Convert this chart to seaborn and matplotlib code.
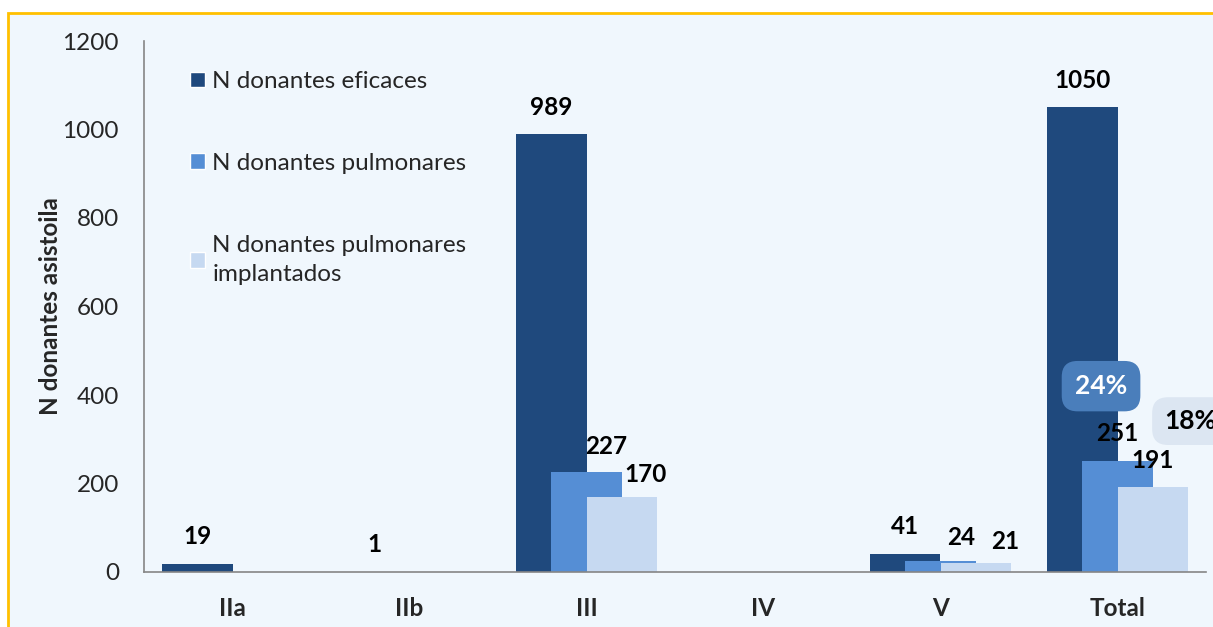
import numpy as np
import pandas as pd
import matplotlib
matplotlib.use("Agg")
import matplotlib.pyplot as plt
import seaborn as sns
from matplotlib.patches import Rectangle

# datos
categorias = ["IIa", "IIb", "III", "IV", "V", "Total"]
series = ["N donantes eficaces", "N donantes pulmonares",
          "N donantes pulmonares\nimplantados"]
eficaces = [19, 1, 989, 0, 41, 1050]
pulmonares = [0, 0, 227, 0, 24, 251]
implantados = [0, 0, 170, 0, 21, 191]
colores = ["#1F497D", "#558ED5", "#C6D9F1"]
yticks = [0, 200, 400, 600, 800, 1000, 1200]

# desplazamientos (px) de las etiquetas que Excel movió
nudge = {(1, 2): (20, 25), (2, 2): (24, 22), (1, 4): (21, 24), (2, 4): (29, 21)}

df = pd.DataFrame({
    "cat": categorias * 3,
    "serie": np.repeat(series, len(categorias)),
    "valor": eficaces + pulmonares + implantados,
})

sns.set_theme(style="white")
plt.rcParams["font.family"] = ["Lato", "DejaVu Sans"]
FS = 17.5

W, H = 1213, 627
fig = plt.figure(figsize=(W / 100, H / 100), dpi=100)
fig.patch.set_facecolor("white")
# marco del gráfico (naranja arriba e izquierda)
fig.patches.append(Rectangle((8 / W, -0.1), 1.2, (H - 13) / H + 0.1,
                             transform=fig.transFigure, facecolor="#F0F7FD",
                             edgecolor="#FFC000", linewidth=2, zorder=-1))

ax = fig.add_axes([144 / W, (H - 572) / H, 1062 / W, 531 / H])
ax.set_facecolor("none")

sns.barplot(data=df, x="cat", y="valor", hue="serie", hue_order=series,
            palette=colores, order=categorias, ax=ax, saturation=1,
            width=0.8, dodge=True, legend=True)

# barras solapadas: ancho 0.4, paso 0.2
n = len(categorias)
for k, cont in enumerate(ax.containers):
    for i, p in enumerate(cont.patches):
        p.set_width(0.4)
        p.set_x(i + (k - 1) * 0.2 - 0.2)
        p.set_linewidth(0)

vals = [eficaces, pulmonares, implantados]
for k in range(3):
    for i in range(n):
        v = vals[k][i]
        if v == 0:
            continue
        dx, dy = nudge.get((k, i), (0, 27))
        ax.annotate(str(v), (i + (k - 1) * 0.2, v), xytext=(dx * 0.72, dy * 0.72),
                    textcoords="offset points", ha="center", va="center",
                    fontsize=FS, fontweight="bold", color="black")

ax.set_xlim(-0.5, n - 0.5)
ax.set_ylim(0, 1200)
ax.set_yticks(yticks)
ax.set_yticklabels([str(t) for t in yticks], fontsize=FS)
ax.set_xticks(range(n))
ax.set_xticklabels(categorias, fontsize=FS, fontweight="bold")
ax.set_xticks(np.arange(-0.5, n, 1), minor=True)
ax.tick_params(axis="x", which="major", length=0, pad=18)
ax.tick_params(axis="x", which="minor", length=6, color="#868686", width=1.2, direction="out")
ax.tick_params(axis="y", length=5, color="#868686", width=1.2, direction="out", pad=13)
ax.set_xlabel("")
ax.set_ylabel("N donantes asistoila", fontsize=FS, fontweight="bold")
ax.yaxis.set_label_coords(-(144 - 62) / 1062, 0.5)
for s in ["top", "right"]:
    ax.spines[s].set_visible(False)
for s in ["left", "bottom"]:
    ax.spines[s].set_color("#868686")
    ax.spines[s].set_linewidth(1.2)

leg = ax.legend(loc="upper left", bbox_to_anchor=((190 - 144) / 1062, (572 - 71) / 531),
                frameon=False, fontsize=FS, handlelength=0.62, handleheight=0.62,
                handletextpad=0.3, labelspacing=2.5, borderpad=0, borderaxespad=0)
for t in leg.get_texts():
    t.set_linespacing(1.5)

# cajas de porcentaje
ax.text(4.907, 420, "24%", ha="center", va="center", fontsize=19, fontweight="bold",
        color="white", bbox=dict(boxstyle="round,pad=0.5,rounding_size=0.6",
                                 facecolor="#4A7EBB", edgecolor="none"))
ax.text(5.263, 341, "18%", ha="left", va="center", fontsize=19, fontweight="bold",
        color="black", clip_on=False,
        bbox=dict(boxstyle="round,pad=0.45,rounding_size=0.6",
                  facecolor="#DCE6F2", edgecolor="none"))

fig.savefig("out.png", dpi=100)
